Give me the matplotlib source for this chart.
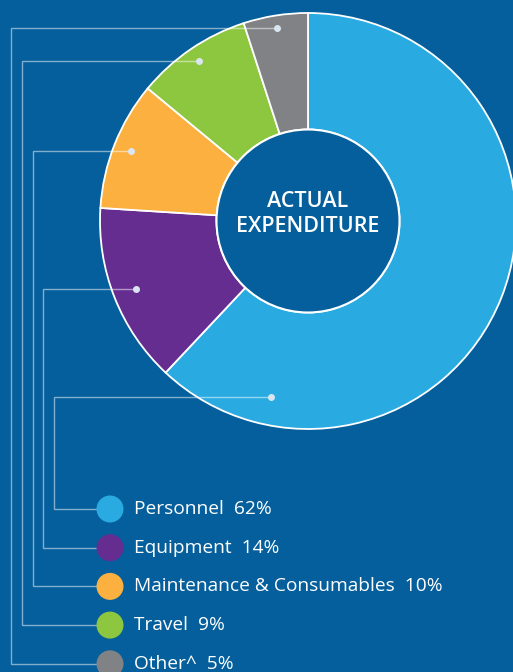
import numpy as np
import matplotlib
matplotlib.use("Agg")
import matplotlib.pyplot as plt
from matplotlib.patches import Circle

# --- DATA ---
categories = ["Personnel", "Equipment", "Maintenance & Consumables", "Travel", "Other^"]
shares = [62, 14, 10, 9, 5]
colors = ["#29abe2", "#662d91", "#fbb040", "#8dc63f", "#808285"]
center_title = "ACTUAL\nEXPENDITURE"

# --- LAYOUT (pixel space) ---
W, H = 513, 672
BG = "#045f9c"
CX, CY = 308, 221
R_OUT, R_IN = 208, 91.5
LEG_X, LEG_Y0, LEG_DY = 110, 509, 38.7
RAIL_X0, RAIL_DX = 54, 10.7
DOT_R = [180, 185, 190, 194, 195]
LINE_C = (1, 1, 1, 0.5)

plt.rcParams['font.family'] = ['Open Sans', 'DejaVu Sans']

fig = plt.figure(figsize=(W / 100, H / 100), dpi=100)
fig.patch.set_facecolor(BG)
ax = fig.add_axes([0, 0, 1, 1])
ax.set_facecolor(BG)

# donut (y axis is flipped, so counterclock=True draws clockwise on screen)
wedges, _ = ax.pie(shares, colors=colors, startangle=-90, counterclock=True,
                   center=(CX, CY), radius=R_OUT, frame=True,
                   wedgeprops=dict(width=R_OUT - R_IN, edgecolor="white", linewidth=1.3))
ax.set_xlim(0, W)
ax.set_ylim(H, 0)
ax.set_aspect("equal")
ax.axis("off")
ax.add_patch(Circle((CX, CY), R_IN, facecolor=BG, edgecolor="white", lw=1.5, zorder=3))
ax.text(CX, CY - 7, center_title, ha="center", va="center", color="white",
        fontsize=15.5, fontweight="semibold", linespacing=1.22, zorder=4)

# leader lines + legend
total = sum(shares)
cum = np.cumsum([0] + shares)
for i, (name, val, col) in enumerate(zip(categories, shares, colors)):
    # screen angle measured from top, going clockwise
    a_start = 360 * cum[i] / total
    a_mid = a_start + 180 * val / total
    if i == 0:
        a_mid = 192  # personnel anchor sits in the lower-left part of its slice
    th = np.deg2rad(a_mid)
    dx = CX + DOT_R[i] * np.sin(th)
    dy = CY - DOT_R[i] * np.cos(th)
    rail = RAIL_X0 - i * RAIL_DX
    ly = LEG_Y0 + i * LEG_DY
    ax.plot([dx, rail, rail, LEG_X - 13], [dy, dy, ly, ly], color=LINE_C, lw=1.0,
            solid_joinstyle="miter", zorder=5)
    ax.plot(dx, dy, "o", ms=4, color=(0.85, 0.9, 0.95), zorder=6)
    ax.add_patch(Circle((LEG_X, ly), 13.5, facecolor=col, edgecolor="none", zorder=6))
    ax.text(LEG_X + 24, ly, f"{name}  {val}%", ha="left", va="center", color="white",
            fontsize=13.8, zorder=6)

fig.savefig("out.png", dpi=100, facecolor=BG)
